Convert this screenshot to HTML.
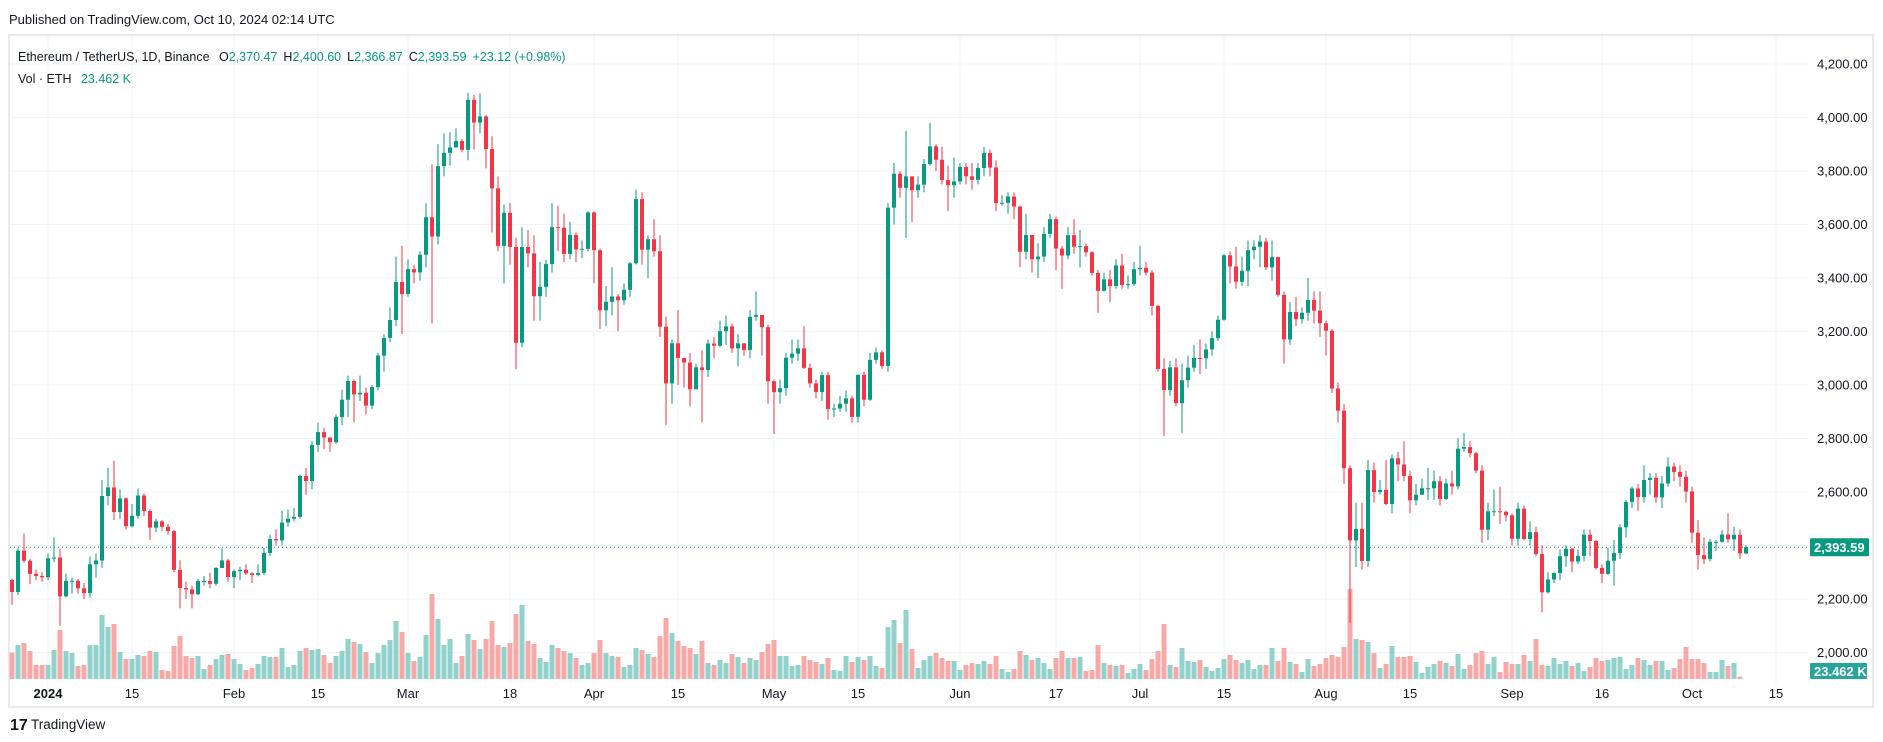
<!DOCTYPE html>
<html><head><meta charset="utf-8">
<style>
html,body{margin:0;padding:0;background:#fff;width:1883px;height:742px;overflow:hidden;font-family:"Liberation Sans",sans-serif;}
svg{display:block}
text{font-family:"Liberation Sans",sans-serif;}
</style></head>
<body>
<svg id="chart" width="1883" height="742" viewBox="0 0 1883 742" xmlns="http://www.w3.org/2000/svg">
<text x="9" y="24" font-size="13" fill="#131722">Published on TradingView.com, Oct 10, 2024 02:14 UTC</text>
<rect x="9" y="35" width="1864" height="672" fill="#fff" stroke="#e8eaf0" stroke-width="2"/>
<g id="grid"></g>
<g id="vol"></g>
<g id="candles"></g>
<g id="axes"></g>
<text x="18" y="61" font-size="12.5" fill="#131722">Ethereum / TetherUS, 1D, Binance <tspan dx="6">O</tspan><tspan fill="#089981">2,370.47</tspan><tspan dx="6">H</tspan><tspan fill="#089981">2,400.60</tspan><tspan dx="6">L</tspan><tspan fill="#089981">2,366.87</tspan><tspan dx="6">C</tspan><tspan fill="#089981">2,393.59</tspan><tspan dx="6" fill="#089981">+23.12 (+0.98%)</tspan></text>
<text x="18" y="83" font-size="12.5" fill="#131722">Vol · ETH <tspan dx="6" fill="#089981">23.462 K</tspan></text>
<g>
<text x="10" y="730" font-size="16" font-weight="bold" fill="#131722">17</text>
<text x="31" y="729" font-size="13.5" fill="#131722">TradingView</text>
</g>
</svg>
<script>
// data starts Dec 26, 2023 (day -6)
const startDay = -6;
const firstOpen = 2271;
const closes = [
2226,2381,2343,2294,2286,2281,
2352,2355,2210,2268,2268,2240,2222,2330,2344,2585,2617,2525,2576,2472,2511,2587,2529,2467,2490,2470,2454,2309,2241,2236,2218,2267,2267,2257,2316,2344,2282,
2304,2309,2296,2290,2297,2372,2424,2419,2486,2500,2507,2660,2641,2776,2824,2804,2786,2880,2945,3015,2965,2971,2923,2992,3110,3176,3243,3385,3340,
3433,3421,3487,3627,3555,3818,3868,3888,3912,3879,4066,3981,4004,3882,3735,3520,3644,3516,3158,3516,3492,3332,3367,3452,3590,3588,3490,3561,3507,3509,3645,
3504,3279,3311,3331,3317,3356,3455,3695,3506,3545,3500,3218,3006,3156,3101,3084,2984,3066,3056,3155,3147,3201,3219,3137,3156,3131,3255,3262,3216,3014,
2973,2988,3102,3117,3137,3064,3006,2974,3037,2910,2912,2930,2950,2881,3038,2945,3094,3122,3071,3663,3790,3737,3780,3728,3749,3826,3892,3842,3766,3747,3761,
3815,3780,3767,3811,3867,3813,3680,3681,3705,3667,3498,3561,3470,3480,3565,3620,3510,3484,3560,3517,3519,3496,3419,3352,3395,3370,3447,3374,3377,3433,
3438,3420,3296,3060,2981,3066,2932,3018,3065,3101,3100,3133,3175,3244,3485,3443,3386,3427,3504,3517,3536,3440,3478,3337,3170,3273,3246,3270,3318,3278,3231,
3203,2987,2904,2689,2419,2462,2342,2682,2600,2608,2555,2726,2703,2660,2569,2590,2614,2614,2640,2574,2632,2621,2762,2768,2745,2680,2459,2528,2528,2526,2513,
2425,2538,2424,2450,2368,2225,2273,2297,2360,2388,2340,2361,2440,2417,2316,2294,2343,2372,2468,2563,2613,2581,2645,2653,2580,2632,2695,2675,2657,2602,
2448,2364,2349,2414,2414,2441,2423,2440,2370.47,2393.59];
const highs = [
2275,2390,2445,2350,2310,2300,
2370,2431,2387,2295,2280,2275,2260,2359,2370,2645,2690,2717,2610,2580,2555,2613,2595,2535,2500,2495,2480,2458,2345,2265,2250,2275,2286,2298,2319,2389,2350,
2310,2320,2330,2300,2330,2390,2440,2460,2530,2535,2540,2665,2690,2790,2860,2840,2800,2890,2982,3035,3020,3035,2990,3000,3120,3190,3290,3480,3520,
3470,3450,3500,3680,3825,3900,3940,3945,3960,3920,4092,4085,4090,4010,3930,3780,3675,3680,3550,3590,3580,3560,3460,3468,3680,3670,3640,3610,3570,3540,3650,
3650,3510,3370,3440,3340,3380,3460,3730,3720,3560,3620,3560,3255,3170,3280,3100,3120,3080,3130,3170,3180,3240,3260,3230,3190,3150,3280,3350,3250,3225,
3020,3020,3120,3170,3170,3220,3080,3020,3050,3050,2930,2960,2980,2960,3040,3050,3120,3140,3130,3680,3830,3800,3950,3780,3780,3845,3980,3900,3890,3820,3850,
3830,3830,3830,3830,3890,3880,3840,3710,3720,3720,3670,3640,3560,3530,3590,3640,3630,3520,3590,3620,3580,3530,3500,3430,3420,3430,3470,3490,3410,3460,
3520,3460,3430,3300,3100,3090,3100,3080,3110,3150,3170,3155,3200,3260,3490,3500,3517,3480,3540,3540,3560,3550,3540,3480,3350,3310,3330,3290,3400,3350,3350,
3240,3210,3010,2930,2700,2560,2560,2720,2710,2645,2720,2740,2750,2790,2680,2630,2650,2690,2680,2660,2650,2680,2800,2820,2790,2750,2700,2560,2610,2620,2530,
2520,2560,2550,2490,2470,2400,2300,2300,2385,2400,2390,2385,2460,2460,2420,2330,2390,2420,2480,2570,2620,2630,2700,2670,2670,2660,2730,2710,2700,2680,
2620,2495,2430,2425,2420,2458,2520,2470,2460,2400.6];
const lows = [
2178,2215,2335,2256,2270,2265,
2271,2338,2100,2206,2220,2220,2200,2205,2280,2317,2550,2495,2500,2460,2468,2500,2510,2420,2450,2455,2440,2300,2165,2200,2165,2215,2250,2240,2250,2316,2265,
2240,2270,2290,2260,2285,2290,2360,2400,2400,2470,2490,2500,2590,2610,2750,2760,2750,2780,2850,2880,2860,2940,2890,2910,2980,3050,3160,3220,3190,
3330,3380,3390,3440,3230,3525,3780,3820,3890,3870,3840,3880,3940,3810,3570,3500,3380,3450,3059,3140,3440,3240,3240,3330,3420,3500,3460,3470,3460,3475,3500,
3380,3210,3220,3260,3200,3300,3330,3450,3450,3400,3480,3180,2850,2930,3000,2990,2920,2990,2860,3030,3100,3140,3150,3120,3070,3110,3100,3240,3110,2930,
2817,2930,2960,3080,3090,3060,2990,2950,2940,2870,2880,2900,2900,2860,2860,2920,2940,3080,3060,3050,3600,3700,3550,3610,3700,3720,3820,3800,3750,3650,3700,
3750,3750,3730,3750,3780,3780,3650,3670,3640,3620,3440,3470,3420,3400,3460,3550,3430,3360,3470,3490,3440,3480,3410,3270,3350,3310,3360,3360,3360,3370,
3410,3410,3260,3050,2810,2960,2920,2820,2990,3050,3040,3060,3110,3165,3240,3380,3360,3370,3370,3470,3440,3430,3390,3330,3080,3150,3220,3230,3240,3230,3180,
3110,2970,2860,2630,2111,2320,2310,2320,2560,2590,2550,2520,2640,2640,2520,2550,2590,2570,2570,2550,2570,2590,2610,2750,2730,2670,2410,2420,2510,2480,2490,
2400,2400,2420,2400,2360,2150,2220,2260,2270,2320,2300,2330,2340,2360,2310,2260,2290,2250,2350,2430,2540,2530,2560,2590,2560,2540,2620,2640,2620,2560,
2410,2310,2330,2340,2380,2410,2410,2380,2350,2366.87];
const volumes = [
263,340,360,280,140,140,
140,290,490,280,260,130,140,340,340,640,520,550,270,200,200,240,230,280,270,90,80,330,430,230,210,230,100,140,200,240,250,
200,150,90,110,150,230,220,220,310,120,140,280,310,290,300,240,160,230,280,400,370,350,270,160,260,340,390,580,470,
260,180,220,440,850,600,340,400,160,230,450,390,300,400,580,340,320,360,650,740,380,350,210,170,340,310,280,260,210,140,160,
260,390,260,230,220,120,140,310,290,250,220,430,610,460,380,330,310,250,380,160,140,190,160,250,220,160,210,190,270,350,
390,230,230,130,140,230,190,170,150,210,90,80,230,170,220,190,230,130,110,520,590,360,690,300,110,190,230,260,210,180,180,
90,140,160,150,180,150,230,100,70,100,280,240,190,210,160,100,210,280,210,210,220,80,90,340,160,140,130,140,60,100,
150,90,200,280,550,140,120,310,180,170,190,120,80,110,200,240,190,160,190,100,140,140,310,180,310,170,150,70,200,130,150,
210,240,220,320,900,400,390,370,260,110,150,330,220,220,230,170,60,120,150,180,160,130,250,100,140,260,280,150,220,70,
170,150,150,240,180,400,140,130,210,150,180,130,160,80,120,210,180,190,210,220,100,140,210,190,140,180,180,90,110,200,
320,200,200,160,70,70,190,130,160,23.462];
const priceTicks = [2000,2200,2400,2600,2800,3000,3200,3400,3600,3800,4000,4200];
const dateTickLabels = ["2024","15","Feb","15","Mar","18","Apr","15","May","15","Jun","17","Jul","15","Aug","15","Sep","16","Oct","15"];
const dateTickDays = [0,14,31,45,60,77,91,105,121,135,152,168,182,196,213,227,244,259,274,288];

const NS="http://www.w3.org/2000/svg";
function mk(tag,attrs,parent){const e=document.createElementNS(NS,tag);for(const k in attrs)e.setAttribute(k,attrs[k]);parent.appendChild(e);return e;}
function xOf(d){return 48+d*6;}
function yOf(p){return 64+(4200-p)*0.2675;}
function vH(v){return v*0.1;}
const VBASE=679;
const grid=document.getElementById('grid'),axes=document.getElementById('axes');
priceTicks.forEach(p=>{
  const l=mk('line',{x1:10,x2:1808,y1:yOf(p),y2:yOf(p),stroke:'#f0f3fa','stroke-width':1},grid);
  
  
  const t=mk('text',{x:1817,y:yOf(p)+4.5,'font-size':13,fill:'#131722'},axes);
  t.textContent=p.toLocaleString('en-US',{minimumFractionDigits:2});
  
  
});
dateTickDays.forEach((d,i)=>{
  const l=mk('line',{x1:xOf(d),x2:xOf(d),y1:36,y2:683,stroke:'#f0f3fa','stroke-width':1},grid);
  
  
  const t=mk('text',{x:xOf(d),y:698,'font-size':13,fill:'#131722','text-anchor':'middle','font-weight':i==0?'bold':'normal'},axes);
  t.textContent=dateTickLabels[i];
  
  
});
const vg=document.getElementById('vol'),cg=document.getElementById('candles');
for(let i=0;i<closes.length;i++){
  const o=i==0?firstOpen:closes[i-1], c=closes[i], up=c>=o;
  const col=up?'#089981':'#F23645';
  const x=xOf(startDay+i);
  const h=vH(volumes[i]);
  const vb=mk('rect',{x:x-2.5,y:VBASE-h,width:5,height:h,fill:up?'#92d2cc':'#f7a9a7'},vg);
  
  
  const w=mk('line',{x1:x,x2:x,y1:yOf(highs[i]),y2:yOf(lows[i]),stroke:col,'stroke-width':1},cg);
  
  
  const top=yOf(Math.max(o,c)),bot=yOf(Math.min(o,c));
  const b=mk('rect',{x:x-2,y:top,width:4,height:Math.max(1,bot-top),fill:col},cg);
  
  
}
const last=closes[closes.length-1];
const pl=mk('line',{x1:10,x2:1808,y1:yOf(last),y2:yOf(last),stroke:'#089981','stroke-width':1,'stroke-dasharray':'1 3'},axes);


const pb=mk('rect',{x:1810,y:yOf(last)-9,width:59,height:18,fill:'#089981',rx:1},axes);


const pt=mk('text',{x:1814,y:yOf(last)+5,'font-size':13,'font-weight':'bold',fill:'#fff'},axes);
pt.textContent=last.toLocaleString('en-US',{minimumFractionDigits:2});


const vbx=mk('rect',{x:1810,y:663,width:57,height:16,fill:'#26a69a',rx:1},axes);


const vt=mk('text',{x:1814,y:676,'font-size':13,'font-weight':'bold',fill:'#fff'},axes);
vt.textContent=volumes[volumes.length-1].toFixed(3)+' K';


</script>
</body></html>
